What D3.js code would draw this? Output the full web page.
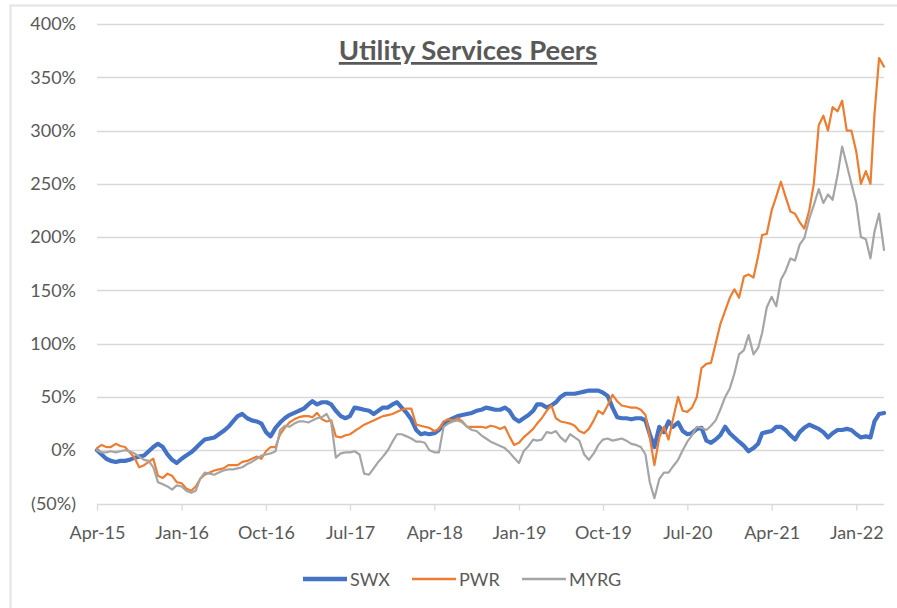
<!DOCTYPE html>
<html>
<head>
<meta charset="utf-8">
<script src="https://cdn.jsdelivr.net/npm/d3@7"></script>
<style>
  html, body { margin: 0; padding: 0; background: #ffffff; }
  svg { display: block; }
  text { font-family: "Lato", "Open Sans", "Liberation Sans", sans-serif; }
</style>
</head>
<body>
<script>
// ---------------- DATA ----------------
const title = "Utility Services Peers";
const seriesNames = ["SWX", "PWR", "MYRG"];
const seriesColors = ["#4472C4", "#ED7D31", "#A5A5A5"];

const dates = [
  "2015-04-01","2015-04-16","2015-05-01","2015-05-16","2015-06-01","2015-06-16","2015-07-01","2015-07-16","2015-08-01","2015-08-16","2015-09-01","2015-09-16","2015-10-01","2015-10-16","2015-11-01","2015-11-16","2015-12-01","2015-12-16",
  "2016-01-01","2016-01-16","2016-02-01","2016-02-16","2016-03-01","2016-03-16","2016-04-01","2016-04-16","2016-05-01","2016-05-16","2016-06-01","2016-06-16","2016-07-01","2016-07-16","2016-08-01","2016-08-16","2016-09-01","2016-09-16","2016-10-01","2016-10-16","2016-11-01","2016-11-16","2016-12-01","2016-12-16",
  "2017-01-01","2017-01-16","2017-02-01","2017-02-16","2017-03-01","2017-03-16","2017-04-01","2017-04-16","2017-05-01","2017-05-16","2017-06-01","2017-06-16","2017-07-01","2017-07-16","2017-08-01","2017-08-16","2017-09-01","2017-09-16","2017-10-01","2017-10-16","2017-11-01","2017-11-16","2017-12-01","2017-12-16",
  "2018-01-01","2018-01-16","2018-02-01","2018-02-16","2018-03-01","2018-03-16","2018-04-01","2018-04-16","2018-05-01","2018-05-16","2018-06-01","2018-06-16","2018-07-01","2018-07-16","2018-08-01","2018-08-16","2018-09-01","2018-09-16","2018-10-01","2018-10-16","2018-11-01","2018-11-16","2018-12-01","2018-12-16",
  "2019-01-01","2019-01-16","2019-02-01","2019-02-16","2019-03-01","2019-03-16","2019-04-01","2019-04-16","2019-05-01","2019-05-16","2019-06-01","2019-06-16","2019-07-01","2019-07-16","2019-08-01","2019-08-16","2019-09-01","2019-09-16","2019-10-01","2019-10-16","2019-11-01","2019-11-16","2019-12-01","2019-12-16",
  "2020-01-01","2020-01-16","2020-02-01","2020-02-16","2020-03-01","2020-03-16","2020-04-01","2020-04-16","2020-05-01","2020-05-16","2020-06-01","2020-06-16","2020-07-01","2020-07-16","2020-08-01","2020-08-16","2020-09-01","2020-09-16","2020-10-01","2020-10-16","2020-11-01","2020-11-16","2020-12-01","2020-12-16",
  "2021-01-01","2021-01-16","2021-02-01","2021-02-16","2021-03-01","2021-03-16","2021-04-01","2021-04-16","2021-05-01","2021-05-16","2021-06-01","2021-06-16","2021-07-01","2021-07-16","2021-08-01","2021-08-16","2021-09-01","2021-09-16","2021-10-01","2021-10-16","2021-11-01","2021-11-16","2021-12-01","2021-12-16",
  "2022-01-01","2022-01-16","2022-02-01","2022-02-16","2022-03-01","2022-03-16","2022-04-01"
];

// cumulative return, percent
const swx = [
  0,-4,-8,-10,-11,-10,-10,-9,-7,-6,-5,-1,3,6,3,-4,-9,-12,
  -8,-5,-2,2,6,10,11,12,15,18,22,27,32,34,30,28,27,25,17,13,21,26,30,33,
  35,37,39,43,46,43,45,45,43,37,32,30,32,40,39,38,37,34,37,40,40,43,45,40,
  35,29,19,15,16,15,16,19,24,28,30,32,33,34,35,37,38,40,39,38,38,40,37,30,
  27,30,33,37,43,43,40,42,45,50,53,53,53,54,55,56,56,56,54,51,40,31,30,30,
  29,30,30,28,15,3,22,17,27,22,26,18,15,16,20,21,9,7,10,14,22,16,12,8,
  4,-1,2,6,16,17,18,22,22,19,14,10,17,21,24,22,20,17,12,16,19,19,20,19,
  15,12,13,12,27,34,35
];
const pwr = [
  2,5,3,3,6,4,3,-2,-7,-16,-14,-11,-8,-24,-26,-22,-24,-30,
  -31,-36,-38,-34,-27,-23,-21,-19,-18,-17,-14,-14,-14,-11,-10,-8,-6,-8,-1,3,3,15,21,26,
  29,31,32,32,31,35,29,27,28,13,12,14,15,18,21,24,26,28,30,32,33,34,36,38,
  39,39,24,23,22,21,18,20,27,29,28,30,27,22,22,22,22,21,23,22,20,22,13,5,
  7,12,16,20,25,30,37,42,30,27,26,25,23,18,16,20,28,37,34,42,52,46,42,41,
  40,40,38,33,12,-14,12,22,10,30,50,37,36,40,50,77,81,82,100,118,131,143,151,143,
  163,165,162,182,202,203,225,238,252,238,224,222,214,208,225,250,305,314,300,322,318,328,300,300,
  280,250,262,250,315,368,360
];
const myrg = [
  0,-2,-2,-1,-2,-1,0,-1,-3,-6,-9,-10,-16,-30,-32,-34,-37,-33,
  -34,-38,-40,-38,-27,-21,-22,-23,-21,-19,-18,-18,-17,-16,-13,-11,-8,-5,-4,-3,-1,19,23,22,
  25,27,27,26,28,30,31,34,26,-7,-3,-2,-2,-1,-4,-22,-23,-17,-11,-6,0,8,15,15,
  13,11,8,8,7,0,-2,-2,22,25,27,28,26,22,19,18,14,11,8,6,4,2,-2,-7,
  -12,-1,4,10,9,10,17,16,18,12,8,15,12,9,-4,-9,-3,5,10,11,9,10,11,9,
  6,5,3,-4,-30,-45,-27,-21,-21,-15,-9,0,8,14,22,21,19,23,28,38,50,58,72,90,
  94,108,90,96,110,134,144,135,160,168,180,178,193,199,217,230,245,232,240,235,258,285,268,250,
  232,200,198,180,205,222,188
];

const yTicks = [-50, 0, 50, 100, 150, 200, 250, 300, 350, 400];
const xTickDates = ["2015-04-01","2016-01-01","2016-10-01","2017-07-01","2018-04-01","2019-01-01","2019-10-01","2020-07-01","2021-04-01","2022-01-01"];
const xDomain = ["2015-04-01", "2022-04-01"];

// ---------------- CHART ----------------
const W = 897, H = 608;
const parse = d3.timeParse("%Y-%m-%d");
const plot = { left: 97, right: 884, top: 24, bottom: 503.5 };

const svg = d3.select("body").append("svg").attr("width", W).attr("height", H);

// outer chart border (cropped chart area)
svg.append("rect")
  .attr("x", 10.5).attr("y", 5.5)
  .attr("width", W + 20).attr("height", H + 20)
  .attr("fill", "none").attr("stroke", "#e3e3e3").attr("stroke-width", 2);

const x = d3.scaleTime().domain(xDomain.map(parse)).range([plot.left, plot.right]);
const y = d3.scaleLinear().domain([-50, 400]).range([plot.bottom, plot.top]);

// gridlines
svg.append("g").selectAll("line").data(yTicks.filter(v => v !== -50)).join("line")
  .attr("x1", plot.left).attr("x2", plot.right)
  .attr("y1", d => Math.round(y(d)) + 0.5).attr("y2", d => Math.round(y(d)) + 0.5)
  .attr("stroke", "#d9d9d9").attr("stroke-width", 1.3);

// y axis labels
const fmt = v => v < 0 ? `(${-v}%)` : `${v}%`;
const yAxis = d3.axisLeft(y).tickValues(yTicks).tickFormat(fmt).tickSize(0).tickPadding(0);
const gy = svg.append("g").attr("transform", `translate(76,0)`).call(yAxis);
gy.select(".domain").remove();
gy.selectAll("text").attr("fill", "#595959").style("font-size", "18px")
  .style("font-family", '"Lato", sans-serif');

// x axis
const xAxis = d3.axisBottom(x).tickValues(xTickDates.map(parse))
  .tickFormat(d3.timeFormat("%b-%y")).tickSize(6).tickPadding(16);
const gx = svg.append("g").attr("transform", `translate(0,${Math.round(plot.bottom) + 0.5})`).call(xAxis);
gx.select(".domain").attr("stroke", "#d9d9d9").attr("stroke-width", 1.3)
  .attr("d", `M${plot.left},0H${plot.right}`);
gx.selectAll(".tick line").attr("stroke", "#d9d9d9").attr("stroke-width", 1.3);
gx.selectAll("text").attr("fill", "#595959").style("font-size", "18px")
  .style("font-family", '"Lato", sans-serif');

// series
const series = [swx, pwr, myrg].map((vals, i) => ({
  name: seriesNames[i], color: seriesColors[i],
  values: vals.map((v, j) => ({ date: parse(dates[j]), v }))
}));
const widths = { SWX: 4.2, PWR: 2.2, MYRG: 2.2 };
const line = d3.line().x(d => x(d.date)).y(d => y(d.v));
svg.append("g").selectAll("path").data(series).join("path")
  .attr("d", d => line(d.values))
  .attr("fill", "none")
  .attr("stroke", d => d.color)
  .attr("stroke-width", d => widths[d.name])
  .attr("stroke-linejoin", "round").attr("stroke-linecap", "round");

// title
svg.append("text")
  .attr("x", 468).attr("y", 60)
  .attr("text-anchor", "middle")
  .attr("fill", "#595959")
  .style("font-size", "27.5px").style("font-weight", "bold")
  .style("text-decoration", "underline")
  .text(title);

// legend
const legendX = [303, 412, 522];
const lg = svg.append("g").selectAll("g").data(series).join("g")
  .attr("transform", (d, i) => `translate(${legendX[i]},579)`);
lg.append("line").attr("x1", 0).attr("x2", 44).attr("y1", 0).attr("y2", 0)
  .attr("stroke", d => d.color).attr("stroke-width", d => d.name === "SWX" ? 4.5 : 2.5);
lg.append("text").attr("x", 47).attr("y", 6.5)
  .attr("fill", "#595959").style("font-size", "18px")
  .text(d => d.name);
</script>
</body>
</html>
